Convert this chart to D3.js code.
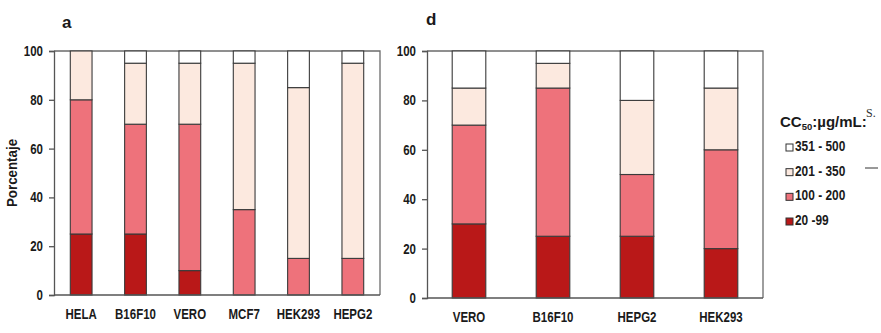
<!DOCTYPE html>
<html>
<head>
<meta charset="utf-8">
<script src="https://cdn.jsdelivr.net/npm/d3@7"></script>
<style>
	body { margin: 0; background: #fff; }
	svg { display: block; }
	.lbl { font-family: 'Liberation Sans', Arial, sans-serif; font-weight: bold; fill: #1a1a1a; }
</style>
</head>
<body>
<svg id="chart" width="881" height="333"></svg>
<script>
// rangos de CC50 (µg/mL), de abajo hacia arriba
const rangos = ['20 -99', '100 - 200', '201 - 350', '351 - 500'];
const coloresRango = ['#b91818', '#ee727b', '#fce9df', '#ffffff'];

// panel a
const lineasA = ['HELA', 'B16F10', 'VERO', 'MCF7', 'HEK293', 'HEPG2'];
const a20_99 = [25, 25, 10, 0, 0, 0];
const a100_200 = [55, 45, 60, 35, 15, 15];
const a201_350 = [20, 25, 25, 60, 70, 80];
const a351_500 = [0, 5, 5, 5, 15, 5];

// panel d
const lineasD = ['VERO', 'B16F10', 'HEPG2', 'HEK293'];
const d20_99 = [30, 25, 25, 20];
const d100_200 = [40, 60, 25, 40];
const d201_350 = [15, 10, 30, 25];
const d351_500 = [15, 5, 20, 15];

const yTicks = [0, 20, 40, 60, 80, 100];

const NARROW = 0.82; // the original uses a condensed face

const svg = d3.select('#chart');

function drawPanel({ letter, lineas, series, x0, x1, yTop, yBottom, letterX, letterY, labelY }) {
	const rows = lineas.map((name, i) => {
		const r = { name };
		rangos.forEach((k, j) => (r[k] = series[j][i]));
		return r;
	});

	const xScale = d3.scaleBand(lineas, [x0, x1]).paddingInner(0.6).paddingOuter(0.3);
	const yScale = d3.scaleLinear([0, 100], [yBottom, yTop]);
	const stacked = d3.stack().keys(rangos)(rows);

	const g = svg.append('g');

	/** FRAME *****************************************************************/
	g.append('path')
		.attr('fill', 'none')
		.attr('stroke', '#6b6b6b')
		.attr('stroke-width', 1.3)
		.attr('d', `M${x0},${yTop}H${x1}V${yBottom}`);

	/** BARS ******************************************************************/
	g.selectAll('.serie')
		.data(stacked)
		.enter()
		.append('g')
		.attr('fill', (d, i) => coloresRango[i])
		.selectAll('rect')
		.data((d) => d.filter((s) => s[1] > s[0]))
		.enter()
		.append('rect')
		.attr('x', (s) => xScale(s.data.name))
		.attr('width', xScale.bandwidth())
		.attr('y', (s) => yScale(s[1]))
		.attr('height', (s) => yScale(s[0]) - yScale(s[1]))
		.attr('stroke', '#3a3a3a')
		.attr('stroke-width', 1.1);

	/** LEFT AXIS *************************************************************/
	const leftAxis = d3.axisLeft(yScale).tickValues(yTicks).tickSize(5);
	g.append('g')
		.attr('transform', `translate(${x0}, 0)`)
		.call(leftAxis)
		.call((a) => a.select('.domain').attr('stroke', '#555').attr('stroke-width', 1.3))
		.call((a) => a.selectAll('.tick line').attr('stroke', '#555').attr('stroke-width', 1.3))
		.call((a) =>
			a.selectAll('.tick text')
				.attr('class', 'lbl')
				.attr('font-size', 14)
				.attr('fill', '#1a1a1a')
				.attr('x', -11 / NARROW)
				.attr('transform', `scale(${NARROW}, 1)`)
		);

	/** BOTTOM LINE + LABELS **************************************************/
	g.append('line')
		.attr('x1', x0)
		.attr('x2', x1)
		.attr('y1', yBottom)
		.attr('y2', yBottom)
		.attr('stroke', '#555')
		.attr('stroke-width', 1.3);

	g.selectAll('.cat')
		.data(lineas)
		.enter()
		.append('text')
		.attr('class', 'lbl')
		.attr('font-size', 14)
		.attr('text-anchor', 'middle')
		.attr('transform', (d) =>
			`translate(${xScale(d) + xScale.bandwidth() / 2}, ${labelY}) scale(${NARROW}, 1)`
		)
		.text((d) => d);

	g.append('text')
		.attr('class', 'lbl')
		.attr('font-size', 17)
		.attr('x', letterX)
		.attr('y', letterY)
		.text(letter);
}

drawPanel({
	letter: 'a',
	lineas: lineasA,
	series: [a20_99, a100_200, a201_350, a351_500],
	x0: 54, x1: 380, yTop: 51, yBottom: 295,
	letterX: 62, letterY: 28, labelY: 319
});

drawPanel({
	letter: 'd',
	lineas: lineasD,
	series: [d20_99, d100_200, d201_350, d351_500],
	x0: 427, x1: 763, yTop: 51, yBottom: 298,
	letterX: 426, letterY: 25, labelY: 322
});

// eje y del panel a
svg.append('text')
	.attr('class', 'lbl')
	.attr('font-size', 14.5)
	.attr('text-anchor', 'middle')
	.attr('transform', 'translate(17, 173) rotate(-90) scale(0.92, 1)')
	.text('Porcentaje');

/** LEGEND ********************************************************************/
const legend = svg.append('g');
const title = legend.append('text')
	.attr('class', 'lbl')
	.attr('font-size', 15)
	.attr('x', 780)
	.attr('y', 127);
title.append('tspan').text('CC');
title.append('tspan').attr('font-size', 9.5).attr('dy', 3).text('50');
title.append('tspan').attr('dy', -3).text(':µg/mL:');

legend.append('text')
	.attr('x', 866)
	.attr('y', 117)
	.attr('font-family', 'Liberation Serif, serif')
	.attr('font-size', 12)
	.attr('fill', '#333')
	.text('S.');

legend.append('line')
	.attr('x1', 865)
	.attr('x2', 878)
	.attr('y1', 168)
	.attr('y2', 168)
	.attr('stroke', '#333')
	.attr('stroke-width', 1);

const legendRows = rangos.slice().reverse();
const legendColors = coloresRango.slice().reverse();
const legendY = d3.scalePoint(legendRows, [151, 225]);

legend.selectAll('.item')
	.data(legendRows)
	.enter()
	.append('g')
	.attr('transform', (d) => `translate(786, ${legendY(d)})`)
	.each(function (d, i) {
		const item = d3.select(this);
		item.append('rect')
			.attr('x', 0)
			.attr('y', -7)
			.attr('width', 7)
			.attr('height', 7)
			.attr('fill', legendColors[i])
			.attr('stroke', '#333')
			.attr('stroke-width', 1);
		item.append('text')
			.attr('class', 'lbl')
			.attr('font-size', 14)
			.attr('transform', `translate(9, 0) scale(0.85, 1)`)
			.text(d);
	});
</script>
</body>
</html>
